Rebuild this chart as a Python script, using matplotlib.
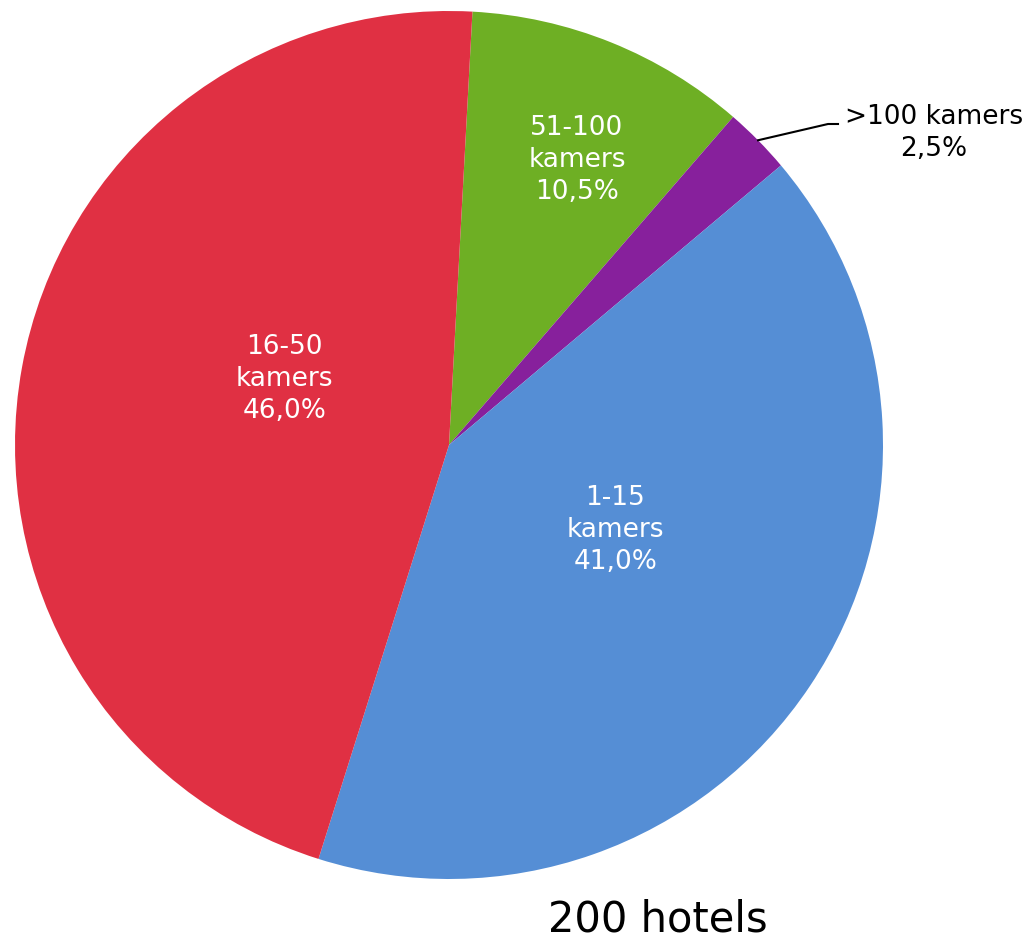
import numpy as np
import matplotlib
matplotlib.use('Agg')
import matplotlib.pyplot as plt

# data, in drawing order (clockwise from top)
categories = ["51-100\nkamers", ">100 kamers", "1-15\nkamers", "16-50\nkamers"]
shares = [10.5, 2.5, 41.0, 46.0]
colors = ['#6EAF24', '#87209C', '#558ED5', '#E03043']
total_label = "200 hotels"

W, H = 1033, 946
fig = plt.figure(figsize=(W / 100, H / 100), dpi=100)
ax = fig.add_axes([0, 0, 1, 1])

cx, cy, R = 449, H - 445, 434
wedges, _ = ax.pie(shares, colors=colors, startangle=86.9, counterclock=False,
                   center=(cx, cy), radius=R, wedgeprops=dict(linewidth=0))
ax.set_xlim(0, W)
ax.set_ylim(0, H)
ax.set_aspect('equal')
ax.axis('off')

def pct(v):
	return "{:.1f}%".format(v).replace(".", ",")

# inside labels: (radius fraction, angle in degrees)
inner_pos = {0: (0.719, 65.8), 2: (0.43, -27.1), 3: (0.408, 158.1)}
for i, (rf, ang) in inner_pos.items():
	x = cx + rf * R * np.cos(np.radians(ang))
	y = cy + rf * R * np.sin(np.radians(ang))
	ax.text(x, y, categories[i] + "\n" + pct(shares[i]), color='white', fontsize=19,
			ha='center', va='center', linespacing=1.3)

# outside label for the small slice with a leader line
w = wedges[1]
mid = np.radians((w.theta1 + w.theta2) / 2)
x0, y0 = cx + R * np.cos(mid), cy + R * np.sin(mid)
ax.plot([x0, 828, 838], [y0, H - 124, H - 124], color='black', linewidth=1.5)
ax.text(934, H - 133, categories[1] + "\n" + pct(shares[1]), color='black', fontsize=19,
		ha='center', va='center', linespacing=1.3)

ax.text(658, H - 920, total_label, color='black', fontsize=30, ha='center', va='center')

plt.savefig("out.png", dpi=100)
